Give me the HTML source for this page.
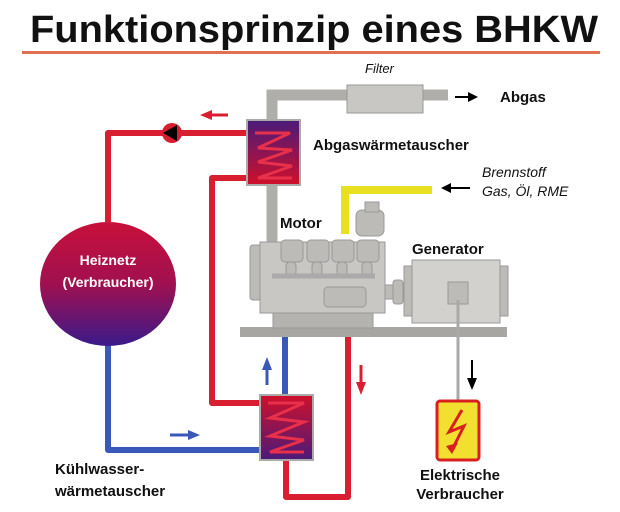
<!DOCTYPE html>
<html><head><meta charset="utf-8"><style>
html,body{margin:0;padding:0;background:#fff;width:620px;height:512px;overflow:hidden}
svg{display:block}
text{font-family:"Liberation Sans",sans-serif}
</style></head><body>
<svg width="620" height="512" viewBox="0 0 620 512" xmlns="http://www.w3.org/2000/svg">
<defs>
<linearGradient id="hx" x1="0" y1="0" x2="0" y2="1"><stop offset="0" stop-color="#4a1a7a"/><stop offset="1" stop-color="#d0102a"/></linearGradient>
<linearGradient id="hx2" x1="0" y1="0" x2="0" y2="1"><stop offset="0" stop-color="#d0102a"/><stop offset="1" stop-color="#4a1a7a"/></linearGradient>
<linearGradient id="circ" x1="0" y1="0" x2="0" y2="1"><stop offset="0" stop-color="#c8103a"/><stop offset="0.5" stop-color="#a01050"/><stop offset="1" stop-color="#3a1a8a"/></linearGradient>
</defs>
<text x="30" y="42" font-size="38" font-weight="bold" fill="#111" textLength="568" lengthAdjust="spacingAndGlyphs">Funktionsprinzip eines BHKW</text>
<rect x="22" y="51" width="578" height="3" fill="#e07050"/>

<!-- exhaust -->
<path d="M272 280 V95 H448" fill="none" stroke="#b0aeab" stroke-width="11"/>
<rect x="347" y="85" width="76" height="28" fill="#c9c7c4" stroke="#9a9895"/>
<text x="365" y="73" font-size="13" font-style="italic" fill="#111">Filter</text>
<path d="M455 97 H470" stroke="#000" stroke-width="2"/><polygon points="468,92 478,97 468,102" fill="#000"/>
<text x="500" y="102" font-size="15" font-weight="bold" fill="#111">Abgas</text>

<!-- yellow fuel -->
<path d="M345 234 V190 H432" fill="none" stroke="#e8e020" stroke-width="8"/>
<path d="M447 188 H470" stroke="#000" stroke-width="2"/><polygon points="451,183 441,188 451,193" fill="#000"/>
<text x="482" y="177" font-size="14" font-style="italic" fill="#111">Brennstoff</text>
<text x="482" y="196" font-size="14" font-style="italic" fill="#111">Gas, Öl, RME</text>

<!-- red pipes -->
<g fill="none" stroke="#d81e30" stroke-width="6" stroke-linejoin="round">
<path d="M108 222 V133 H250"/>
<path d="M250 178 H212 V403 H262"/>
<path d="M348 313 V497 H286 V458"/>
</g>
<!-- blue pipes -->
<g fill="none" stroke="#3a58b8" stroke-width="6" stroke-linejoin="round">
<path d="M108 345 V450 H262"/>
<path d="M285 397 V313"/>
</g>
<!-- pump -->
<circle cx="172" cy="133" r="10" fill="#d81e30"/>
<polygon points="163,133 177,125 177,141" fill="#000"/>
<!-- flow arrows -->
<path d="M210 115 H228" stroke="#d81e30" stroke-width="3"/><polygon points="212,110 200,115 212,120" fill="#d81e30"/>
<path d="M170 435 H190" stroke="#3a58b8" stroke-width="3"/><polygon points="188,430 200,435 188,440" fill="#3a58b8"/>
<path d="M267 385 V368" stroke="#3a58b8" stroke-width="3"/><polygon points="262,370 267,357 272,370" fill="#3a58b8"/>
<path d="M361 365 V384" stroke="#d81e30" stroke-width="3"/><polygon points="356,382 361,395 366,382" fill="#d81e30"/>

<!-- heat exchangers -->
<rect x="247" y="120" width="53" height="65" fill="url(#hx)" stroke="#aaa" stroke-width="2"/>
<polyline points="255,133 290,133 258,148 292,150 258,162 292,166 258,178 292,178" fill="none" stroke="#e8304a" stroke-width="3"/>
<rect x="260" y="395" width="53" height="65" fill="url(#hx2)" stroke="#aaa" stroke-width="2"/>
<polyline points="268,403 304,403 270,418 304,422 270,436 304,440 270,452 304,452" fill="none" stroke="#e8304a" stroke-width="3"/>
<text x="313" y="150" font-size="15" font-weight="bold" fill="#111">Abgaswärmetauscher</text>

<!-- circle -->
<ellipse cx="108" cy="284" rx="68" ry="62" fill="url(#circ)"/>
<text x="108" y="265" font-size="14" font-weight="bold" fill="#fff" text-anchor="middle">Heiznetz</text>
<text x="108" y="287" font-size="14" font-weight="bold" fill="#fff" text-anchor="middle">(Verbraucher)</text>

<!-- engine -->
<rect x="240" y="327" width="267" height="10" fill="#a8a6a3"/>
<rect x="273" y="312" width="100" height="16" fill="#b5b3b0" stroke="#999"/>
<rect x="250" y="245" width="14" height="55" rx="3" fill="#bdbbb8" stroke="#999"/>
<rect x="260" y="242" width="125" height="71" fill="#c9c7c4" stroke="#999"/>
<rect x="356" y="210" width="28" height="26" rx="6" fill="#bdbbb8" stroke="#999"/>
<rect x="365" y="202" width="14" height="10" fill="#bdbbb8" stroke="#999"/>
<g fill="#bdbbb8" stroke="#999">
<rect x="281" y="240" width="22" height="22" rx="4"/><rect x="307" y="240" width="22" height="22" rx="4"/>
<rect x="332" y="240" width="22" height="22" rx="4"/><rect x="357" y="240" width="22" height="22" rx="4"/>
<rect x="286" y="262" width="10" height="14" rx="4"/><rect x="312" y="262" width="10" height="14" rx="4"/>
<rect x="337" y="262" width="10" height="14" rx="4"/><rect x="362" y="262" width="10" height="14" rx="4"/>
<rect x="324" y="287" width="42" height="20" rx="4"/>
<rect x="385" y="285" width="28" height="14"/>
<rect x="393" y="280" width="10" height="24" rx="3"/>
</g>
<path d="M272 276 H375" stroke="#aaa" stroke-width="5"/>
<text x="280" y="228" font-size="15" font-weight="bold" fill="#111">Motor</text>
<!-- generator -->
<rect x="404" y="266" width="8" height="50" fill="#bdbbb8" stroke="#999"/>
<rect x="500" y="266" width="8" height="50" fill="#bdbbb8" stroke="#999"/>
<rect x="412" y="260" width="88" height="63" fill="#d3d1ce" stroke="#999"/>
<rect x="448" y="282" width="20" height="22" fill="#bdbbb8" stroke="#999"/>
<text x="412" y="254" font-size="15" font-weight="bold" fill="#111">Generator</text>
<path d="M458 300 V400" stroke="#aaa" stroke-width="3"/>
<path d="M472 360 V380" stroke="#000" stroke-width="2"/><polygon points="467,378 472,390 477,378" fill="#000"/>
<rect x="437" y="401" width="42" height="59" rx="3" fill="#f2e030" stroke="#d82020" stroke-width="3"/>
<polyline points="462,410 449,432 464,426 452,450" fill="none" stroke="#d82020" stroke-width="3"/>
<polygon points="446,446 452,454 458,443" fill="#d82020"/>
<text x="460" y="480" font-size="15" font-weight="bold" fill="#111" text-anchor="middle">Elektrische</text>
<text x="460" y="499" font-size="15" font-weight="bold" fill="#111" text-anchor="middle">Verbraucher</text>
<text x="55" y="474" font-size="15" font-weight="bold" fill="#111">Kühlwasser-</text>
<text x="55" y="496" font-size="15" font-weight="bold" fill="#111">wärmetauscher</text>
</svg>
</body></html>
